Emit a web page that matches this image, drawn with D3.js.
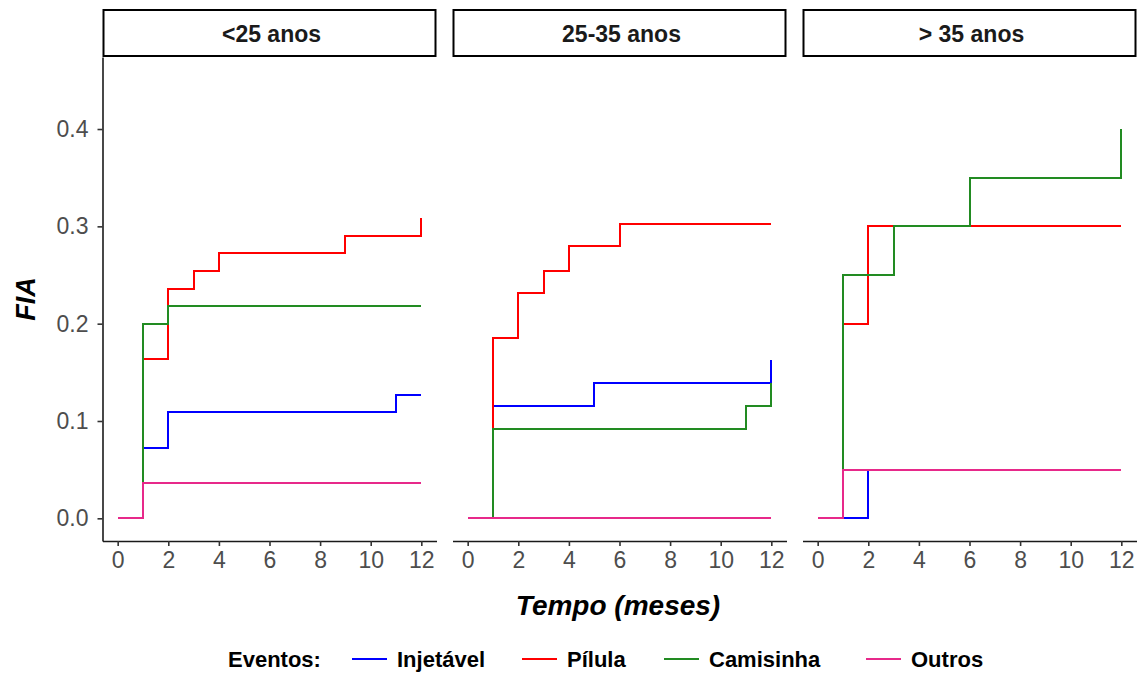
<!DOCTYPE html>
<html>
<head>
<meta charset="utf-8">
<script src="https://cdn.jsdelivr.net/npm/d3@7"></script>
<style>
	body { margin: 0; background: #fff; }
	#fia_chart { width: 1144px; height: 675px; }
</style>
</head>
<body>
<div id="fia_chart"></div>
<script>
// Faixas etarias (paineis) e eventos (series)
var faixas  = ["<25 anos", "25-35 anos", "> 35 anos"],
    eventos = ["Injetável", "Pílula", "Camisinha", "Outros"];

var tempo_ticks = [0, 2, 4, 6, 8, 10, 12],
    fia_ticks   = [0, 0.1, 0.2, 0.3, 0.4];

// Curvas em escada: um par de arrays (tempo, FIA) por faixa etaria
var injetavel_tempo = [[0, 1, 2, 11, 12], [0, 1, 5, 12], [0, 2, 12]],
    injetavel_fia   = [[0, 0.072, 0.109, 0.127, 0.127], [0, 0.115, 0.139, 0.163], [0, 0.05, 0.05]];

var pilula_tempo = [[0, 1, 2, 3, 4, 9, 12], [0, 1, 2, 3, 4, 6, 12], [0, 1, 2, 12]],
    pilula_fia   = [[0, 0.164, 0.236, 0.2545, 0.273, 0.290, 0.309],
                    [0, 0.185, 0.232, 0.2545, 0.280, 0.302, 0.302],
                    [0, 0.20, 0.30, 0.30]];

var camisinha_tempo = [[0, 1, 2, 12], [0, 1, 11, 12], [0, 1, 3, 6, 12]],
    camisinha_fia   = [[0, 0.200, 0.218, 0.218], [0, 0.092, 0.115, 0.139], [0, 0.25, 0.30, 0.35, 0.40]];

var outros_tempo = [[0, 1, 12], [0, 12], [0, 1, 12]],
    outros_fia   = [[0, 0.036, 0.036], [0, 0], [0, 0.05, 0.05]];

var cores = ["#0000ff", "#ff0000", "#228b22", "#e7298a"];

function generate_viz() {
	var series_tempo = [injetavel_tempo, pilula_tempo, camisinha_tempo, outros_tempo];
	var series_fia   = [injetavel_fia, pilula_fia, camisinha_fia, outros_fia];

	var panelW = 334, panelGap = 16,
	    panelLeft = 102.5, panelTop = 57, panelBottom = 541,
	    stripTop = 10;

	var svgContainer = d3.select("#fia_chart").append("svg")
		.attr("width", 1144)
		.attr("height", 675)
		.style("font-family", "'Liberation Sans', Arial, sans-serif");

	var yScale = d3.scaleLinear()
		.domain([-0.0233, 0.474])
		.range([panelBottom, panelTop]);

	faixas.forEach(function(faixa, p) {
		var x0 = panelLeft + p * (panelW + panelGap);
		var xScale = d3.scaleLinear()
			.domain([-0.6, 12.6])
			.range([x0, x0 + panelW]);

		var panel = svgContainer.append("g").attr("class", "panel");

		// strip
		panel.append("rect")
			.attr("x", x0 + 1)
			.attr("y", stripTop)
			.attr("width", panelW - 2)
			.attr("height", panelTop - stripTop - 1)
			.style("fill", "#fff")
			.style("stroke", "#000")
			.style("stroke-width", "2px");
		panel.append("text")
			.attr("x", x0 + panelW / 2 + 2)
			.attr("y", (stripTop + panelTop) / 2 + 8)
			.attr("text-anchor", "middle")
			.style("font-size", "23px")
			.style("font-weight", "bold")
			.style("fill", "#1a1a1a")
			.text(faixa);

		// linhas (coordenadas arredondadas para traco nitido)
		var stepLine = d3.line()
			.x(function(d) { return Math.round(xScale(d[0])); })
			.y(function(d) { return Math.round(yScale(d[1])); })
			.curve(d3.curveStepAfter);

		eventos.forEach(function(ev, s) {
			var pts = series_tempo[s][p].map(function(t, i) { return [t, series_fia[s][p][i]]; });
			panel.append("path")
				.datum(pts)
				.attr("d", stepLine)
				.style("fill", "none")
				.style("stroke", cores[s])
				.style("stroke-width", "2px");
		});

		// eixo x
		var xAxis = panel.append("g")
			.attr("transform", "translate(0," + panelBottom + ")")
			.call(d3.axisBottom(xScale).tickValues(tempo_ticks).tickSize(5).tickSizeOuter(0).tickPadding(6));
		xAxis.select(".domain").style("stroke", "#1a1a1a").style("stroke-width", "1.6px");
		xAxis.selectAll(".tick line").style("stroke", "#333").style("stroke-width", "1.6px");
		xAxis.selectAll(".tick text")
			.style("font-size", "23px")
			.style("fill", "#4d4d4d")
			.style("font-family", "'Liberation Sans', Arial, sans-serif");

		if (p === 0) {
			var yAxis = panel.append("g")
				.attr("transform", "translate(" + x0 + ",0)")
				.call(d3.axisLeft(yScale).tickValues(fia_ticks).tickFormat(d3.format(".1f")).tickSize(5).tickSizeOuter(0).tickPadding(9));
			yAxis.select(".domain").style("stroke", "#1a1a1a").style("stroke-width", "1.6px");
			yAxis.selectAll(".tick line").style("stroke", "#333").style("stroke-width", "1.6px");
			yAxis.selectAll(".tick text")
				.style("font-size", "23px")
				.style("fill", "#4d4d4d")
				.style("font-family", "'Liberation Sans', Arial, sans-serif");
		}
	});

	// titulos dos eixos
	svgContainer.append("text")
		.attr("x", 618)
		.attr("y", 615)
		.attr("text-anchor", "middle")
		.style("font-size", "28px")
		.style("font-weight", "bold")
		.style("font-style", "italic")
		.text("Tempo (meses)");
	svgContainer.append("text")
		.attr("transform", "translate(35,299) rotate(-90)")
		.attr("text-anchor", "middle")
		.style("font-size", "27px")
		.style("font-weight", "bold")
		.style("font-style", "italic")
		.text("FIA");

	// legenda
	var legend = svgContainer.append("g").attr("transform", "translate(0,659)");
	legend.append("text")
		.attr("x", 228)
		.attr("y", 8)
		.style("font-size", "22px")
		.style("font-weight", "bold")
		.text("Eventos:");
	var keyX = [352, 522, 664, 866];
	eventos.forEach(function(ev, s) {
		legend.append("line")
			.attr("x1", keyX[s]).attr("x2", keyX[s] + 35)
			.attr("y1", 0).attr("y2", 0)
			.style("stroke", cores[s])
			.style("stroke-width", "2px");
		legend.append("text")
			.attr("x", keyX[s] + 45)
			.attr("y", 8)
			.style("font-size", "22px")
			.style("font-weight", "bold")
			.text(ev);
	});
} // generate_viz

generate_viz();
</script>
</body>
</html>
